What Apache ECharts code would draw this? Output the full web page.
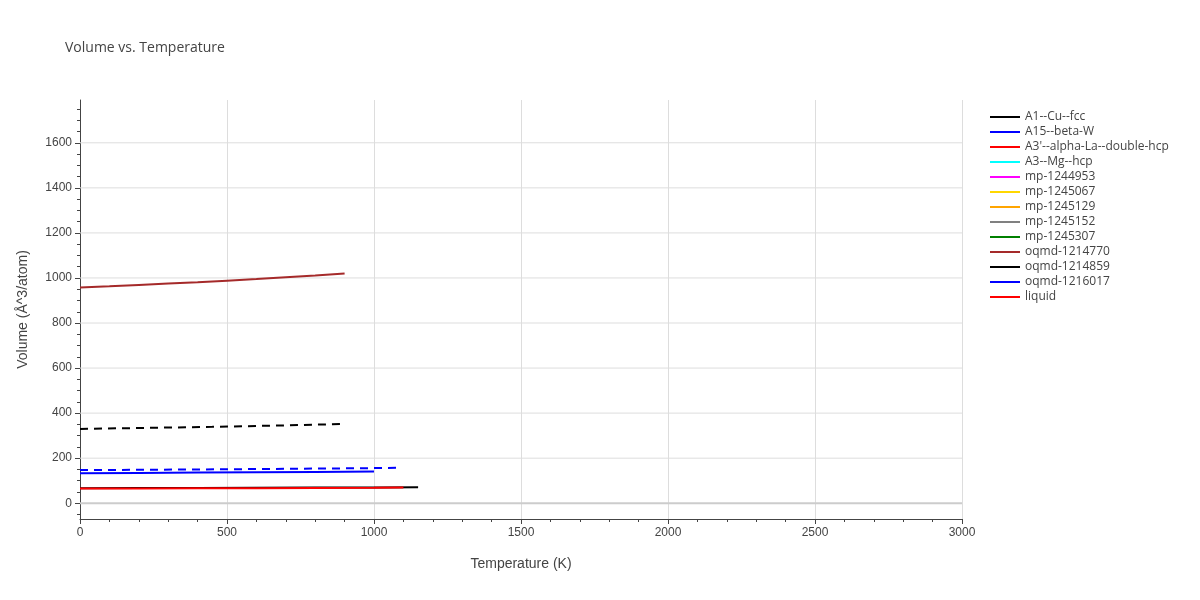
<!DOCTYPE html><html><head><meta charset="utf-8"><script src="https://cdn.jsdelivr.net/npm/echarts@6/dist/echarts.min.js"></script></head><body style="margin:0"><div id="c" style="width:1200px;height:600px"></div><script>
const names=["A1--Cu--fcc","A15--beta-W","A3'--alpha-La--double-hcp","A3--Mg--hcp","mp-1244953","mp-1245067","mp-1245129","mp-1245152","mp-1245307","oqmd-1214770","oqmd-1214859","oqmd-1216017","liquid"];
const colors=["#000000","#0000ff","#ff0000","#00ffff","#ff00ff","#ffd700","#ffa500","#808080","#008000","#a52a2a","#000000","#0000ff","#ff0000"];
const dashed=[false,false,false,false,false,false,false,false,false,false,true,true,true];
const yTicks=[0,200,400,600,800,1000,1200,1400,1600];
const yMinor=[-50,50,100,150,250,300,350,450,500,550,650,700,750,850,900,950,1050,1100,1150,1250,1300,1350,1450,1500,1550,1650,1700,1750];
const T_A1=[0,200,400,600,800,1000,1150], V_A1=[67,67.5,68,68.7,69.4,70.2,71];
const T_A15=[0,200,400,600,800,1000], V_A15=[133,134.5,136,137.5,139,141];
const T_A3p=[0,200,400,600,800,1000,1100], V_A3p=[65,65.6,66.3,67,67.8,68.8,69.5];
const T_770=[0,100,200,300,400,500,600,700,800,900], V_770=[958,963,969,975,981,988,995,1003,1011,1020];
const T_859=[0,150,300,450,600,750,900], V_859=[330,333,336,339,343,347,352];
const T_017=[0,200,400,600,800,1000,1080], V_017=[147,148.5,150,151.8,153.8,156,157.5];
const seriesData=[[T_A1,V_A1],[T_A15,V_A15],[T_A3p,V_A3p],[[],[]],[[],[]],[[],[]],[[],[]],[[],[]],[[],[]],[T_770,V_770],[T_859,V_859],[T_017,V_017],[[],[]]];
const series=names.map((n,i)=>({name:n,type:'line',showSymbol:false,symbol:'none',color:colors[i],
 lineStyle:{width:2,color:colors[i],type:dashed[i]?[8,6]:'solid'},
 data:seriesData[i][0].map((t,j)=>[t,seriesData[i][1][j]])}));
const ax='#444';
echarts.init(document.getElementById('c')).setOption({
 animation:false,
 title:{text:'Volume vs. Temperature',left:60,top:36,textStyle:{fontSize:14,fontWeight:'normal',color:'#444',fontFamily:'Open Sans'}},
 legend:{orient:'vertical',left:985,top:106,itemGap:3,itemWidth:30,itemHeight:16,icon:'path://M0,7L30,7L30,9L0,9Z',textStyle:{fontSize:12,color:'#444',fontFamily:'Open Sans'},data:names},
 grid:{left:80,right:238,top:100,bottom:81},
 xAxis:{type:'value',min:0,max:3000,interval:500,name:'Temperature (K)',nameLocation:'middle',nameGap:38,nameTextStyle:{fontSize:14,color:'#444'},
  axisLine:{onZero:false,lineStyle:{color:ax}},axisTick:{show:true,length:5,lineStyle:{color:ax}},minorTick:{show:true,splitNumber:5,length:3,lineStyle:{color:ax}},
  axisLabel:{color:'#444',fontSize:12,formatter:v=>String(v)},splitLine:{lineStyle:{color:'#ddd'}}},
 yAxis:[{type:'value',min:-70,max:1790,name:'Volume (Å^3/atom)',nameLocation:'middle',nameGap:50,nameTextStyle:{fontSize:14,color:'#444'},
  axisLine:{show:true,onZero:false,lineStyle:{color:ax}},axisTick:{show:true,length:5,customValues:yTicks,lineStyle:{color:ax}},
  axisLabel:{color:'#444',fontSize:12,customValues:yTicks,formatter:v=>String(v)},splitLine:{show:false}},
  {type:'value',min:-70,max:1790,position:'left',axisLine:{show:false},axisLabel:{show:false},axisTick:{show:true,length:3,customValues:yMinor,lineStyle:{color:ax}},splitLine:{show:false}}],
 series:series.concat([{type:'line',silent:true,symbol:'none',data:[[0,0],[3000,0]],lineStyle:{color:'#ccc',width:2},z:1}],
  yTicks.filter(v=>v>0).map(v=>({type:'line',silent:true,symbol:'none',data:[[0,v],[3000,v]],lineStyle:{color:'#ddd',width:1},z:0})))
});
</script></body></html>
